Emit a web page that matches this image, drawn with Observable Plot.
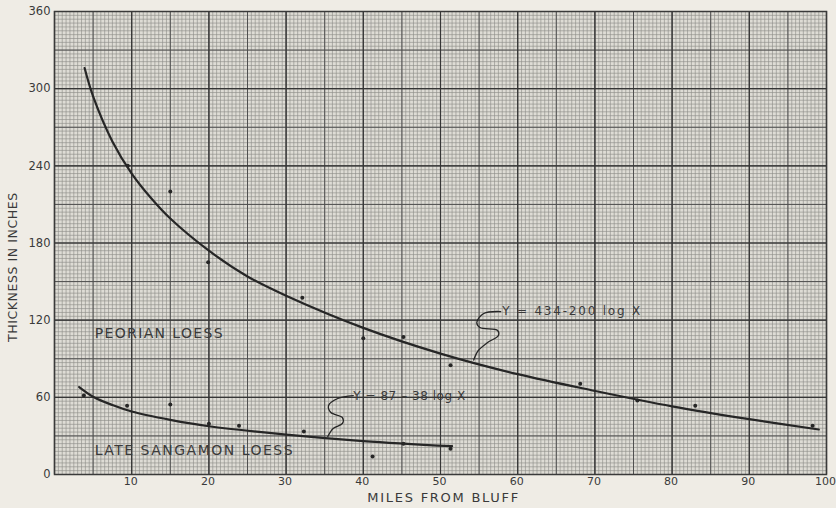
<!DOCTYPE html>
<html>
<head>
<meta charset="utf-8">
<script src="https://cdn.jsdelivr.net/npm/d3@7"></script>
<script src="https://cdn.jsdelivr.net/npm/@observablehq/plot@0.6"></script>
<style>
  html, body { margin: 0; padding: 0; background: #efece5; }
  #chart { width: 836px; height: 508px; }
  svg { display: block; }
</style>
</head>
<body>
<div id="chart"></div>
<script>
// ---- data ----
const xTicks = [10, 20, 30, 40, 50, 60, 70, 80, 90, 100];
const yTicks = [0, 60, 120, 180, 240, 300, 360];

// observed points
const peorianX = [9.5, 15.0, 19.9, 32.1, 40.0, 45.2, 51.3, 68.1, 75.5, 83.0, 98.2];
const peorianY = [240, 220, 165, 137.5, 106, 107, 85, 70.5, 57.5, 53.5, 38];
const sangamonX = [3.8, 9.4, 15.0, 20.0, 23.9, 32.3, 41.2, 45.2, 51.3];
const sangamonY = [61.5, 53.5, 54.5, 39.5, 38, 33.5, 14, 24, 20];

// fitted curves, values
const peorianCurveX = [3.9, 5, 7.5, 10, 12.5, 15, 20, 25, 30, 40, 50, 60, 70, 80, 90, 99];
const peorianCurveY = [316, 294, 259, 234, 215, 199, 174, 154, 139, 114, 94, 78, 65, 53, 43, 35];
const sangamonCurveX = [3.2, 5, 7.5, 10, 15, 20, 30, 40, 51.5];
const sangamonCurveY = [68, 60.5, 54, 49, 42.5, 37.5, 31, 26, 22];

// leader squiggles (label -> curve)
const peorianLeaderX = [57.8, 55.6, 54.7, 55.1, 57.4, 57.5, 56.1, 54.9, 54.3];
const peorianLeaderY = [126.7, 125.2, 118.2, 114.3, 112.0, 108.1, 102.6, 96.4, 89];
const sangamonLeaderX = [38.7, 36.7, 35.5, 35.8, 37.3, 37.3, 36.1, 35.4];
const sangamonLeaderY = [61.4, 59.1, 53.7, 48.2, 44.3, 39.7, 35.8, 29.5];

// labels
const seriesLabels = ["PEORIAN LOESS", "LATE SANGAMON LOESS"];
const seriesLabelX = [5.2, 5.2];
const seriesLabelY = [109.6, 18.7];
const equationLabels = ["Y = 434-200 log X", "Y = 87 \u2013 38 log X"];
const equationLabelX = [58.0, 38.7];
const equationLabelY = [126.7, 60.7];
const xTitle = "MILES FROM BLUFF";
const xTitleAt = 50.3;   // miles, centre of the title
const yTitle = "THICKNESS IN INCHES";
const yTitleAt = 161;    // inches, centre of the title

// widths of the hand-lettered labels in the reference (px)
const letteredWidth = {
  "PEORIAN LOESS": 128,
  "LATE SANGAMON LOESS": 198,
  "Y = 434-200 log X": 138,
  "Y = 87 \u2013 38 log X": 112,
  "MILES FROM BLUFF": 151,
  "THICKNESS IN INCHES": 149
};

// ---- build tables ----
const zip = (xs, ys) => xs.map((x, i) => ({x, y: ys[i]}));
const peorianPts = zip(peorianX, peorianY);
const sangamonPts = zip(sangamonX, sangamonY);
const peorianCurve = zip(peorianCurveX, peorianCurveY);
const sangamonCurve = zip(sangamonCurveX, sangamonCurveY);
const peorianLeader = zip(peorianLeaderX, peorianLeaderY);
const sangamonLeader = zip(sangamonLeaderX, sangamonLeaderY);
const seriesText = seriesLabels.map((t, i) => ({t, x: seriesLabelX[i], y: seriesLabelY[i]}));
const eqText = equationLabels.map((t, i) => ({t, x: equationLabelX[i], y: equationLabelY[i]}));

// graph-paper grid levels
const fineX = d3.range(0, 100.001, 0.5);
const fineY = d3.range(0, 360.001, 3);
const majX = d3.range(0, 100.001, 5);
const majY = d3.range(0, 360.001, 30);
const boldX = d3.range(0, 100.001, 10);
const boldY = d3.range(0, 360.001, 60);

const ink = "#262626";
const textFill = "#3a3a3a";

const chart = Plot.plot({
  width: 836,
  height: 508,
  marginLeft: 54,
  marginRight: 10,
  marginTop: 11,
  marginBottom: 34,
  style: {background: "transparent", fontFamily: "DejaVu Sans, sans-serif"},
  x: {domain: [0, 100], label: null},
  y: {domain: [0, 360], label: null},
  marks: [
    Plot.frame({fill: "#dedcd5", stroke: "none"}),
    Plot.ruleX(fineX, {stroke: "#8e8e89", strokeWidth: 0.8, strokeOpacity: 0.8}),
    Plot.ruleY(fineY, {stroke: "#8e8e89", strokeWidth: 0.8, strokeOpacity: 0.8}),
    Plot.ruleX(majX, {stroke: "#505050", strokeWidth: 1}),
    Plot.ruleY(majY, {stroke: "#505050", strokeWidth: 1}),
    Plot.ruleX(boldX, {stroke: "#363636", strokeWidth: 1.2}),
    Plot.ruleY(boldY, {stroke: "#363636", strokeWidth: 1.2}),
    Plot.frame({stroke: "#3a3a3a", strokeWidth: 1.5}),

    Plot.axisX({ticks: xTicks, tickSize: 0, tickPadding: 3, fontSize: 11, dx: -1, fill: textFill, label: null}),
    Plot.axisY({ticks: yTicks, tickSize: 0, tickPadding: 4, fontSize: 11.5, fill: textFill, label: null}),

    Plot.line(peorianCurve, {x: "x", y: "y", curve: "catmull-rom", stroke: ink, strokeWidth: 2.2}),
    Plot.line(sangamonCurve, {x: "x", y: "y", curve: "catmull-rom", stroke: ink, strokeWidth: 2.2}),
    Plot.line(peorianLeader, {x: "x", y: "y", curve: "catmull-rom", stroke: ink, strokeWidth: 1.3}),
    Plot.line(sangamonLeader, {x: "x", y: "y", curve: "catmull-rom", stroke: ink, strokeWidth: 1.3}),

    Plot.dot(peorianPts, {x: "x", y: "y", r: 2, fill: ink, stroke: "none"}),
    Plot.dot(sangamonPts, {x: "x", y: "y", r: 2, fill: ink, stroke: "none"}),

    Plot.text(seriesText, {x: "x", y: "y", text: "t", textAnchor: "start", fontSize: 14, fill: textFill}),
    Plot.text(eqText, {x: "x", y: "y", text: "t", textAnchor: "start", fontSize: 12, fill: textFill}),

    Plot.text([{t: xTitle, x: xTitleAt}], {x: "x", text: "t", frameAnchor: "bottom", dy: 27, fontSize: 13, fill: textFill}),
    Plot.text([{t: yTitle, y: yTitleAt}], {y: "y", text: "t", frameAnchor: "left", textAnchor: "middle", dx: -42, rotate: -90,
      fontSize: 12.5, fill: textFill})
  ]
});

// stretch the hand-lettered labels to the spacing of the reference lettering
d3.select(chart).selectAll("text").each(function() {
  const w = letteredWidth[this.textContent];
  if (w) d3.select(this).attr("textLength", w).attr("lengthAdjust", "spacing");
});

document.getElementById("chart").appendChild(chart);
</script>
</body>
</html>
